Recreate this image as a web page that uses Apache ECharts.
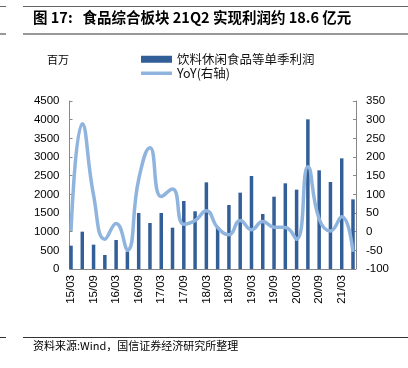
<!DOCTYPE html>
<html>
<head>
<meta charset="utf-8">
<script src="https://cdn.jsdelivr.net/npm/echarts@6/dist/echarts.min.js"></script>
<style>
html,body{margin:0;padding:0;background:#fff;}
#c{width:408px;height:368px;}
</style>
</head>
<body>
<div id="c"></div>
<script>
var categories = ['15/03','15/06','15/09','15/12','16/03','16/06','16/09','16/12','17/03','17/06','17/09','17/12','18/03','18/06','18/09','18/12','19/03','19/06','19/09','19/12','20/03','20/06','20/09','20/12','21/03','21/06'];
var profit = [625, 1000, 652, 375, 777, 470, 1500, 1232, 1500, 1107, 1821, 1545, 2321, 1125, 1714, 2045, 2491, 1473, 1937, 2295, 2125, 4009, 2643, 2330, 2964, 1866];
var yoy = [2, 289, 98, -20, 22, -49, 140, 225, 94, 114, 20, 30, 56, 11, -8, 30, 5, 27, 12, 11, -20, 174, 34, 2, 40, -54];
var barName = '饮料休闲食品等单季利润';
var lineName = 'YoY(右轴)';
var titleText = '图 17:   食品综合板块 21Q2 实现利润约 18.6 亿元';
var unitText = '百万';
var sourceText = '资料来源:Wind，国信证券经济研究所整理';

var cjk = '"Noto Sans CJK SC", sans-serif';
var latin = '"Liberation Sans", Arial, sans-serif';
var barColor = '#335f98';
var lineColor = '#8fb4de';

var chart = echarts.init(document.getElementById('c'), null, {renderer: 'canvas'});
chart.setOption({
  animation: false,
  backgroundColor: '#fff',
  grid: {left: 71, right: 55, top: 101, bottom: 99, containLabel: false},
  legend: [
    {data: [{name: barName, icon: 'rect'}], left: 136, top: 48, itemWidth: 31, itemHeight: 7, itemGap: 4,
     textStyle: {fontFamily: cjk, fontSize: 12.5, color: '#111'}},
    {data: [{name: lineName, icon: 'rect', itemStyle: {color: lineColor}}], left: 136, top: 62, itemWidth: 31, itemHeight: 3.5,
     textStyle: {fontFamily: cjk, fontSize: 12.5, color: '#111'}}
  ],
  xAxis: {
    type: 'category', data: categories, boundaryGap: false,
    axisLine: {lineStyle: {color: '#888'}},
    axisTick: {show: false},
    axisLabel: {rotate: 90, interval: 1, margin: 6, fontFamily: latin, fontSize: 11.5, color: '#000'}
  },
  yAxis: [
    {type: 'value', min: 0, max: 4500, interval: 500, offset: 1.5,
     axisLine: {show: true, lineStyle: {color: '#888'}},
     axisTick: {show: true, inside: true, length: 3, lineStyle: {color: '#888'}},
     splitLine: {show: false},
     axisLabel: {margin: 10, fontFamily: latin, fontSize: 11.5, color: '#000', formatter: function (v) { return String(v); }}},
    {type: 'value', min: -100, max: 350, interval: 50, offset: 3,
     axisLine: {show: true, lineStyle: {color: '#888'}},
     axisTick: {show: true, inside: true, length: 3, lineStyle: {color: '#888'}},
     splitLine: {show: false},
     axisLabel: {margin: 10, fontFamily: latin, fontSize: 11.5, color: '#000', formatter: function (v) { return String(v); }}}
  ],
  series: [
    {name: barName, type: 'bar', data: profit, barWidth: 3.5, clip: false,
     itemStyle: {color: barColor}},
    {name: lineName, type: 'line', yAxisIndex: 1, data: yoy, smooth: 0.5, symbol: 'none',
     lineStyle: {color: lineColor, width: 3.5}, itemStyle: {color: lineColor}}
  ],
  graphic: [
    {type: 'line', shape: {x1: 23, y1: 6.5, x2: 408, y2: 6.5}, style: {stroke: '#666', lineWidth: 1}},
    {type: 'line', shape: {x1: 0, y1: 6.5, x2: 6, y2: 6.5}, style: {stroke: '#666', lineWidth: 1}},
    {type: 'line', shape: {x1: 23, y1: 34, x2: 408, y2: 34}, style: {stroke: '#333', lineWidth: 1}},
    {type: 'line', shape: {x1: 0, y1: 34, x2: 6, y2: 34}, style: {stroke: '#333', lineWidth: 1}},
    {type: 'line', shape: {x1: 23, y1: 337.5, x2: 408, y2: 337.5}, style: {stroke: '#333', lineWidth: 1}},
    {type: 'line', shape: {x1: 0, y1: 337.5, x2: 6, y2: 337.5}, style: {stroke: '#333', lineWidth: 1}},
    {type: 'text', left: 33, top: 10, style: {text: titleText, fontFamily: cjk, fontSize: 14.5, fontWeight: 'bold', fill: '#000'}},
    {type: 'text', left: 47, top: 54, style: {text: unitText, fontFamily: cjk, fontSize: 11, fill: '#000'}},
    {type: 'text', left: 33, top: 340, style: {text: sourceText, fontFamily: cjk, fontSize: 11, fill: '#000'}}
  ]
});
</script>
</body>
</html>
